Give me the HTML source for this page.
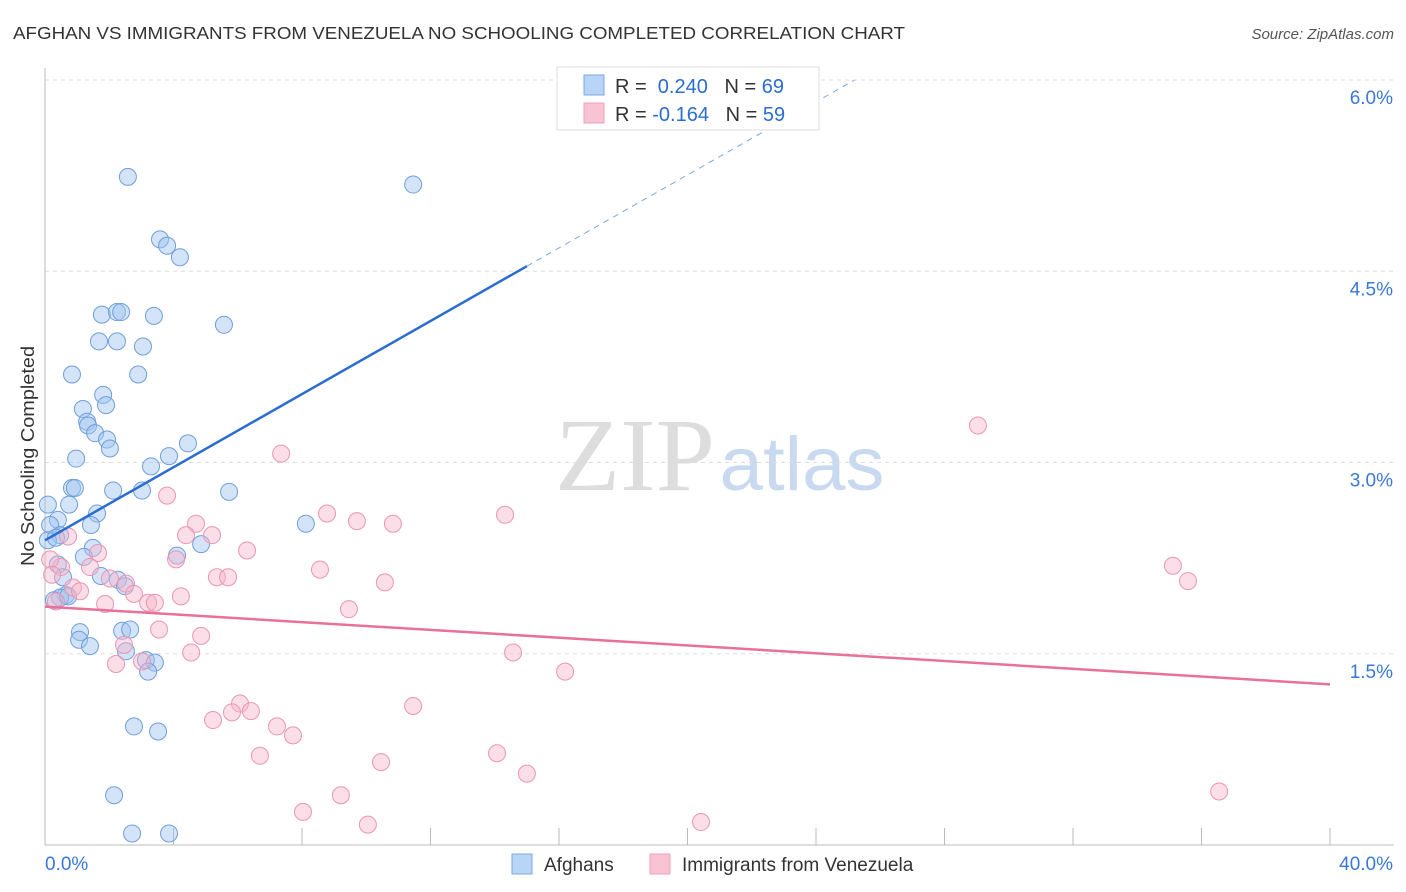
<!DOCTYPE html>
<html><head><meta charset="utf-8"><style>
body{margin:0;background:#fff;font-family:"Liberation Sans",sans-serif}
svg{display:block}
</style></head><body>
<svg id="c" width="1406" height="892" xmlns="http://www.w3.org/2000/svg">
<text x="13" y="39" font-size="17.5" fill="#333" textLength="892" lengthAdjust="spacingAndGlyphs">AFGHAN VS IMMIGRANTS FROM VENEZUELA NO SCHOOLING COMPLETED CORRELATION CHART</text>
<text x="1394" y="39" font-size="15" fill="#555" font-style="italic" text-anchor="end">Source: ZipAtlas.com</text>
<text x="0" y="0" transform="translate(34,456) rotate(-90)" font-size="18" fill="#333" text-anchor="middle" textLength="220" lengthAdjust="spacingAndGlyphs">No Schooling Completed</text>
<g><text x="635" y="490" font-size="104" fill="#ddd" font-family="Liberation Serif" text-anchor="middle" textLength="160" lengthAdjust="spacingAndGlyphs">ZIP</text><text x="802" y="490" font-size="76" fill="#c9daf0" text-anchor="middle" textLength="165" lengthAdjust="spacingAndGlyphs">atlas</text></g>
<g id="grid"></g><g id="pts"></g><g id="trend"></g>
<g>
<rect x="557" y="67" width="262" height="63" fill="#fff" stroke="#ddd"/>
<rect x="584" y="75" width="20" height="20" fill="#b8d4f6" stroke="#7aa8e0"/>
<rect x="584" y="103" width="20" height="20" fill="#f8c4d4" stroke="#eea0b8"/>
<text x="615" y="93" font-size="20" fill="#333">R = <tspan fill="#2a6dd0">&#160;0.240</tspan>&#160;&#160;&#160;N = <tspan fill="#2a6dd0">69</tspan></text>
<text x="615" y="121" font-size="20" fill="#333">R = <tspan fill="#2a6dd0">-0.164</tspan>&#160;&#160;&#160;N = <tspan fill="#2a6dd0">59</tspan></text>
</g>
<g>
<rect x="512" y="854" width="20" height="20" fill="#b8d4f6" stroke="#7aa8e0"/>
<text x="544" y="871" font-size="19" fill="#333">Afghans</text>
<rect x="650" y="854" width="20" height="20" fill="#f8c4d4" stroke="#eea0b8"/>
<text x="682" y="871" font-size="19" fill="#333">Immigrants from Venezuela</text>
</g>
</svg>
<script>
const yTicks=[1.5,3.0,4.5,6.0];
const yTickLabels=["1.5%","3.0%","4.5%","6.0%"];
const xTicks=[0,4,8,12,16,20,24,28,32,36,40];
const xEndLabels=["0.0%","40.0%"];
const afghanX=[2.58,11.46,3.58,3.80,4.20,1.77,2.24,2.37,3.39,5.57,1.68,2.24,3.05,0.84,2.90,1.81,1.90,1.18,1.31,1.34,1.56,1.93,2.02,4.45,0.97,3.86,3.30,0.84,0.93,2.12,3.02,5.73,0.75,1.62,0.40,1.43,8.12,0.09,0.16,0.47,0.09,0.34,1.49,1.21,4.11,4.86,0.40,0.56,1.74,2.27,2.49,0.65,0.47,0.28,0.72,1.09,1.06,1.40,2.40,2.65,2.52,3.14,3.42,3.21,2.77,3.52,2.15,2.71,3.86];
const afghanY=[5.24,5.18,4.75,4.70,4.61,4.16,4.18,4.18,4.15,4.08,3.95,3.95,3.91,3.69,3.69,3.53,3.45,3.42,3.32,3.29,3.23,3.18,3.11,3.15,3.03,3.05,2.97,2.80,2.80,2.78,2.78,2.77,2.67,2.60,2.55,2.51,2.52,2.67,2.51,2.43,2.39,2.41,2.33,2.26,2.27,2.36,2.20,2.10,2.11,2.08,2.03,1.96,1.94,1.92,1.95,1.67,1.61,1.56,1.68,1.69,1.52,1.45,1.43,1.36,0.93,0.89,0.39,0.09,0.09];
const venX=[29.04,7.35,3.80,8.78,9.71,10.83,14.32,4.70,5.20,4.39,0.72,1.65,6.29,4.08,0.50,1.40,8.56,5.35,5.70,10.58,35.11,35.58,0.87,1.09,2.52,2.02,2.77,4.23,3.21,3.42,1.87,9.46,0.34,3.55,4.86,2.46,4.55,3.02,2.21,14.57,16.19,6.07,5.82,6.41,5.23,11.46,7.22,7.72,6.69,14.07,10.46,15.00,9.21,36.55,8.03,10.05,20.42,0.16,0.22];
const venY=[3.29,3.07,2.74,2.60,2.54,2.52,2.59,2.52,2.43,2.43,2.42,2.29,2.31,2.24,2.18,2.18,2.16,2.10,2.10,2.06,2.19,2.07,2.02,1.99,2.05,2.09,1.97,1.95,1.90,1.90,1.89,1.85,1.91,1.69,1.64,1.57,1.51,1.44,1.42,1.51,1.36,1.11,1.04,1.05,0.98,1.09,0.93,0.86,0.70,0.72,0.65,0.56,0.39,0.42,0.26,0.16,0.18,2.24,2.12];
const afghanTrend=[[0,2.39],[15,4.54]], afghanTrendExt=[[15,4.54],[25.2,6.0]];
const venTrend=[[0,1.87],[40,1.26]];
const X=v=>45+v*32.125, Y=v=>845-v*127.5;
const NS="http://www.w3.org/2000/svg";
function mk(t,a,p){const e=document.createElementNS(NS,t);for(const k in a)e.setAttribute(k,a[k]);p.appendChild(e);return e;}
const grid=document.getElementById('grid');
yTicks.forEach((t,i)=>{
 const l=mk('line',{x1:45,x2:1394,y1:Y(t),y2:Y(t),stroke:'#ddd','stroke-dasharray':'4,4'},grid);
 
 
 const tx=mk('text',{x:1393,y:Y(t)+24,'font-size':19,fill:'#3a78d8','text-anchor':'end'},grid);
 tx.textContent=yTickLabels[i];
 
 
});
const ax=mk('line',{x1:45,x2:45,y1:68,y2:845,stroke:'#bbb'},grid);


const bx=mk('line',{x1:45,x2:1394,y1:845,y2:845,stroke:'#bbb'},grid);


xTicks.forEach(t=>{const l=mk('line',{x1:X(t),x2:X(t),y1:828,y2:845,stroke:'#bbb'},grid);
 
 });
[[0,'start',45],[40,'end',1393]].forEach((d,i)=>{const tx=mk('text',{x:d[2],y:870,'font-size':19,fill:'#3a78d8','text-anchor':d[1]},grid);tx.textContent=xEndLabels[i];
 
 });
const pts=document.getElementById('pts');
afghanX.forEach((x,i)=>{const c=mk('circle',{cx:X(x),cy:Y(afghanY[i]),r:8.5,fill:'rgba(160,196,240,0.45)',stroke:'#6f9fdc','stroke-width':1},pts);
 
 });
venX.forEach((x,i)=>{const c=mk('circle',{cx:X(x),cy:Y(venY[i]),r:8.5,fill:'rgba(246,182,202,0.45)',stroke:'#eb96b2','stroke-width':1},pts);
 
 });
const tr=document.getElementById('trend');
function line(p,st,dash,name){const l=mk('line',{x1:X(p[0][0]),y1:Y(p[0][1]),x2:X(p[1][0]),y2:Y(p[1][1]),stroke:st,'stroke-width':dash?1:2.5},tr);if(dash)l.setAttribute('stroke-dasharray','6,5');
 
 }
line(afghanTrend,'#2a6dd0',false,'afghan-trend-line');
line(afghanTrendExt,'#7aa8e0',true,'afghan-trend-extension');
line(venTrend,'#e8709a',false,'venezuela-trend-line');
</script>
</body></html>
